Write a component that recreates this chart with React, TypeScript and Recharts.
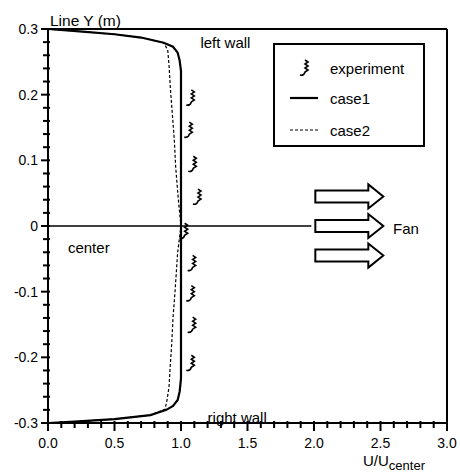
import React from 'react';
import { ComposedChart, Scatter, XAxis, YAxis, ReferenceLine, ReferenceDot, Legend } from 'recharts';

document.body.style.margin = '0';

const FONT = '"Liberation Sans", Arial, sans-serif';

// case1 (solid)
const case1U = [0, 0.26, 0.5, 0.7, 0.87, 0.94, 0.975, 0.99, 1.0, 1.0, 1.0, 0.99, 0.975, 0.94, 0.89, 0.77, 0.5, 0.2, 0];
const case1Y = [0.3, 0.296, 0.292, 0.287, 0.279, 0.273, 0.264, 0.252, 0.236, 0, -0.232, -0.252, -0.265, -0.274, -0.28, -0.288, -0.294, -0.298, -0.3];

// case2 (dashed)
const case2U = [0, 0.26, 0.5, 0.7, 0.87, 0.9, 0.91, 0.92, 0.935, 0.95, 0.96, 0.98, 1.0, 0.975, 0.955, 0.94, 0.93, 0.92, 0.91, 0.895, 0.88, 0.77, 0.5, 0.2, 0];
const case2Y = [0.3, 0.296, 0.292, 0.287, 0.279, 0.268, 0.245, 0.21, 0.17, 0.13, 0.09, 0.04, 0, -0.04, -0.1, -0.14, -0.18, -0.21, -0.245, -0.265, -0.279, -0.288, -0.294, -0.298, -0.3];

// experiment
const expU = [1.07, 1.055, 1.085, 1.12, 1.02, 1.08, 1.07, 1.08, 1.07];
const expY = [0.195, 0.146, 0.094, 0.044, -0.008, -0.057, -0.103, -0.151, -0.209];

const xMajor = [0, 0.5, 1, 1.5, 2, 2.5, 3];
const xLabels = ['0.0', '0.5', '1.0', '1.5', '2.0', '2.5', '3.0'];
const xTicks = [0, 0.1, 0.2, 0.3, 0.4, 0.5, 0.6, 0.7, 0.8, 0.9, 1, 1.1, 1.2, 1.3, 1.4, 1.5, 1.6, 1.7, 1.8, 1.9, 2, 2.1, 2.2, 2.3, 2.4, 2.5, 2.6, 2.7, 2.8, 2.9, 3];

const yMajor = [-0.3, -0.2, -0.1, 0, 0.1, 0.2, 0.3];
const yLabels = ['-0.3', '-0.2', '-0.1', '0', '0.1', '0.2', '0.3'];
const yTicks = [-0.3, -0.28, -0.26, -0.24, -0.22, -0.2, -0.18, -0.16, -0.14, -0.12, -0.1, -0.08, -0.06, -0.04, -0.02, 0,
  0.02, 0.04, 0.06, 0.08, 0.1, 0.12, 0.14, 0.16, 0.18, 0.2, 0.22, 0.24, 0.26, 0.28, 0.3];

const arrowY = [0.045, 0, -0.045];
const legendNames = ['experiment', 'case1', 'case2'];

const zip = (us: number[], ys: number[]) => us.map((u, i) => ({ u, y: ys[i] }));
const case1 = zip(case1U, case1Y);
const case2 = zip(case2U, case2Y);
const experiment = zip(expU, expY);

const XTick = (props: any) => {
  const { x, y, payload } = props;
  const idx = xMajor.findIndex(m => Math.abs(m - payload.value) < 1e-9);
  const major = idx >= 0;
  return (
    <g>
      <line x1={x} x2={x} y1={y - 2} y2={y + (major ? 8 : 5)} stroke="#000" strokeWidth={2} />
      {major && (
        <text x={x} y={y + 20} textAnchor="middle" dominantBaseline="central" fontFamily={FONT} fontSize={14} fill="#000">
          {xLabels[idx]}
        </text>
      )}
    </g>
  );
};

const YTick = (props: any) => {
  const { x, y, payload } = props;
  const idx = yMajor.findIndex(m => Math.abs(m - payload.value) < 1e-9);
  const major = idx >= 0;
  return (
    <g>
      <line x1={x - (major ? 7 : 5)} x2={x + 2} y1={y} y2={y} stroke="#000" strokeWidth={2} />
      {major && (
        <text x={x - 10} y={y} textAnchor="end" dominantBaseline="central" fontFamily={FONT} fontSize={14} fill="#000">
          {yLabels[idx]}
        </text>
      )}
    </g>
  );
};

// wavy bead with a hook, like the printed experimental marker
const ExpMarker = (props: any) => {
  const { cx, cy } = props;
  if (cx == null || cy == null) return <g />;
  let d = `M${cx + 1},${cy - 8}`;
  for (let i = 0; i < 6; i++) d += ` l${i % 2 ? -3 : 3},2`;
  d += ' q-1,4 -5,3';
  return <path d={d} fill="none" stroke="#000" strokeWidth={1.6} />;
};

const NoDot = () => <g />;

const Arrow = (props: any) => {
  const { cx, cy } = props;
  const d = `M${cx},${cy - 6} H${cx + 53} V${cy - 12} L${cx + 68},${cy} L${cx + 53},${cy + 12} V${cy + 6} H${cx} Z`;
  return <path d={d} fill="#fff" stroke="#000" strokeWidth={2} strokeLinejoin="miter" />;
};

const textAt = (label: string, size: number, dx = 0, dy = 0) => (props: any) => (
  <text x={props.cx + dx} y={props.cy + dy} dominantBaseline="central" fontFamily={FONT} fontSize={size} fill="#000">
    {label}
  </text>
);

const axisTitle = (props: any) => (
  <text x={props.cx - 84} y={props.cy + 37} dominantBaseline="central" fontFamily={FONT} fontSize={15} fill="#000">
    U/U
    <tspan dy={5} fontSize={13}>center</tspan>
  </text>
);

const renderLegend = () => (
  <svg width={152} height={104} style={{ display: 'block' }}>
    <rect x={1} y={1} width={150} height={102} fill="#fff" stroke="#000" strokeWidth={2} />
    <ExpMarker cx={31} cy={25} />
    <line x1={17} x2={45} y1={55} y2={55} stroke="#000" strokeWidth={2.2} />
    <line x1={17} x2={45} y1={87} y2={87} stroke="#000" strokeWidth={1.2} strokeDasharray="3 2" />
    {legendNames.map((n, i) => (
      <text key={n} x={57} y={[25, 55, 87][i]} dominantBaseline="central" fontFamily={FONT} fontSize={15} fill="#000">
        {n}
      </text>
    ))}
  </svg>
);

export default function App() {
  return (
    <div style={{ width: 460, height: 472, background: '#fff' }}>
      <ComposedChart width={460} height={472} margin={{ top: 29, right: 13, bottom: 19, left: 0 }}>
        <XAxis
          type="number"
          dataKey="u"
          domain={[0, 3]}
          ticks={xTicks}
          interval={0}
          tickSize={0}
          tickMargin={0}
          tickLine={false}
          tick={<XTick />}
          axisLine={{ stroke: '#000', strokeWidth: 2 }}
          height={30}
          allowDataOverflow
        />
        <YAxis
          type="number"
          dataKey="y"
          domain={[-0.3, 0.3]}
          ticks={yTicks}
          interval={0}
          tickSize={0}
          tickMargin={0}
          tickLine={false}
          tick={<YTick />}
          axisLine={{ stroke: '#000', strokeWidth: 2 }}
          width={48}
          allowDataOverflow
        />
        <ReferenceLine y={0.3} stroke="#000" strokeWidth={2} />
        <ReferenceLine x={3} stroke="#000" strokeWidth={2} />
        <ReferenceLine segment={[{ x: 0, y: 0 }, { x: 1.98, y: 0 }]} stroke="#000" strokeWidth={1.5} />
        <Scatter
          name="case2"
          data={case2}
          line={{ stroke: '#000', strokeWidth: 1.2, strokeDasharray: '3 2' }}
          lineType="joint"
          shape={NoDot}
          isAnimationActive={false}
        />
        <Scatter
          name="case1"
          data={case1}
          line={{ stroke: '#000', strokeWidth: 2.2 }}
          lineType="joint"
          shape={NoDot}
          isAnimationActive={false}
        />
        <Scatter name="experiment" data={experiment} shape={ExpMarker} isAnimationActive={false} />
        {arrowY.map(y => (
          <ReferenceDot key={y} x={2.01} y={y} r={0} shape={Arrow} />
        ))}
        <ReferenceDot x={0} y={0.3} r={0} shape={textAt('Line Y (m)', 15.5, 2, -9)} />
        <ReferenceDot x={1.146} y={0.279} r={0} shape={textAt('left wall', 15)} />
        <ReferenceDot x={1.2} y={-0.292} r={0} shape={textAt('right wall', 15)} />
        <ReferenceDot x={0.15} y={-0.032} r={0} shape={textAt('center', 15)} />
        <ReferenceDot x={2.594} y={-0.004} r={0} shape={textAt('Fan', 15)} />
        <ReferenceDot x={3} y={-0.3} r={0} shape={axisTitle} />
        <Legend
          layout="horizontal"
          verticalAlign="middle"
          align="center"
          content={renderLegend}
          wrapperStyle={{ position: 'absolute', left: 273, top: 43, width: 152, height: 104 }}
        />
      </ComposedChart>
    </div>
  );
}
